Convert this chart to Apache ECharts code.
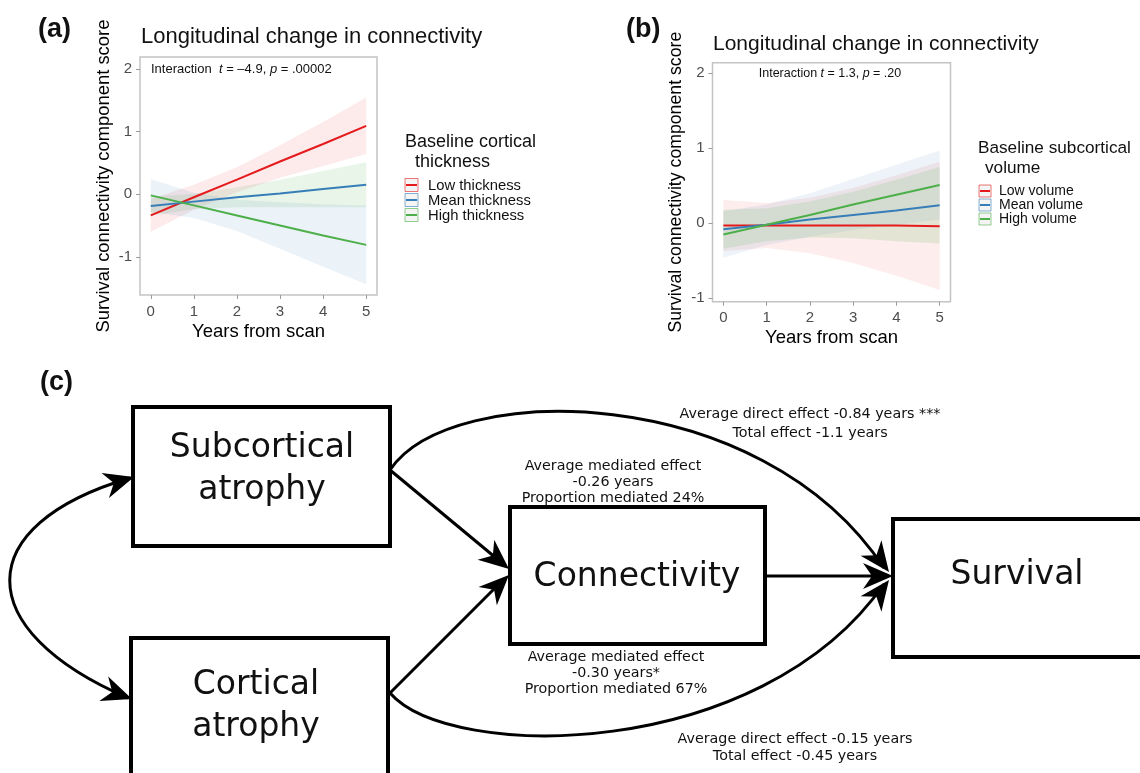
<!DOCTYPE html>
<html><head><meta charset="utf-8">
<script src="https://cdn.jsdelivr.net/npm/echarts@6/dist/echarts.min.js"></script>
<style>html,body{margin:0;padding:0;background:#fff}#c{width:1140px;height:773px}</style>
</head><body><div id="c"></div><script>
// ---------- data ----------
const years = [0, 1, 2, 3, 4, 5];
const xTicks = [0, 1, 2, 3, 4, 5];
const yTicksA = [-1, 0, 1, 2];
const yTicksB = [-1, 0, 1, 2];

// Panel (a): Baseline cortical thickness
const legendA = ['Low thickness', 'Mean thickness', 'High thickness'];
const aLow  = [-0.34, -0.05, 0.23, 0.52, 0.80, 1.09];
const aMean = [-0.19, -0.12, -0.05, 0.01, 0.08, 0.15];
const aHigh = [-0.02, -0.18, -0.34, -0.50, -0.66, -0.81];
// confidence ribbons (as coloured in the figure)
const aRedLo   = [-0.60, -0.25, 0.03, 0.26, 0.45, 0.64];
const aRedHi   = [-0.08, 0.15, 0.43, 0.78, 1.15, 1.54];
const aBlueLo  = [-0.28, -0.38, -0.59, -0.87, -1.16, -1.44];
const aBlueHi  = [0.24, 0.02, -0.09, -0.13, -0.16, -0.18];
const aGreenLo = [-0.34, -0.24, -0.21, -0.21, -0.21, -0.21];
const aGreenHi = [-0.04, 0.00, 0.11, 0.23, 0.37, 0.51];

// Panel (b): Baseline subcortical volume
const legendB = ['Low volume', 'Mean volume', 'High volume'];
const bLow  = [-0.03, -0.03, -0.03, -0.03, -0.03, -0.04];
const bMean = [-0.08, -0.02, 0.05, 0.11, 0.17, 0.24];
const bHigh = [-0.15, -0.02, 0.11, 0.25, 0.38, 0.51];
const bRedLo   = [-0.37, -0.33, -0.40, -0.53, -0.70, -0.89];
const bRedHi   = [0.31, 0.27, 0.34, 0.47, 0.64, 0.82];
const bBlueLo  = [-0.46, -0.29, -0.18, -0.09, -0.02, 0.05];
const bBlueHi  = [0.16, 0.25, 0.40, 0.59, 0.78, 0.97];
const bGreenLo = [-0.34, -0.24, -0.19, -0.20, -0.24, -0.27];
const bGreenHi = [0.18, 0.20, 0.29, 0.42, 0.58, 0.75];

// ---------- styles ----------
const RED = '#E41A1C', BLUE = '#377EB8', GREEN = '#4DAF4A';
const AR = '"Liberation Sans", Arial, sans-serif';
const DV = '"DejaVu Sans", Verdana, sans-serif';

function pairs(v) { return years.map((x, i) => [x, v[i]]); }
function band(gi, lo, hi, fill) {
  return { type: 'custom', xAxisIndex: gi, yAxisIndex: gi, silent: true, z: 1,
    data: years.map((x, i) => [x, lo[i], hi[i]]), encode: { x: 0, y: [1, 2] },
    renderItem: function (params, api) {
      if (params.dataIndex !== 0) return null;
      const top = [], bot = [];
      for (let i = 0; i < years.length; i++) {
        top.push(api.coord([years[i], hi[i]]));
        bot.push(api.coord([years[i], lo[i]]));
      }
      return { type: 'polygon', shape: { points: top.concat(bot.reverse()) }, style: { fill: fill } };
    } };
}
function line(name, gi, v, color) {
  return { name, type: 'line', xAxisIndex: gi, yAxisIndex: gi, data: pairs(v), symbol: 'none',
    lineStyle: { color, width: 2 }, itemStyle: { color }, z: 5 };
}
function xAx(gi) {
  return { type: 'value', gridIndex: gi, min: -0.25, max: 5.25,
    axisLine: { show: false, onZero: false }, splitLine: { show: false },
    axisTick: { show: true, length: 4, lineStyle: { color: '#9a9a9a', width: 1 }, customValues: xTicks },
    axisLabel: { customValues: xTicks, color: '#4d4d4d', fontSize: 15, fontFamily: AR, margin: 9 },
    name: 'Years from scan', nameLocation: 'middle', nameGap: 27,
    nameTextStyle: { fontSize: 18.5, fontFamily: AR, color: '#000' } };
}
function yAx(gi, min, max, ticks, fs) {
  return { type: 'value', gridIndex: gi, min, max,
    axisLine: { show: false, onZero: false }, splitLine: { show: false },
    axisTick: { show: true, length: 4, lineStyle: { color: '#9a9a9a', width: 1 }, customValues: ticks },
    axisLabel: { customValues: ticks, color: '#4d4d4d', fontSize: 15, fontFamily: AR, margin: 8 },
    name: 'Survival connectivity component score', nameLocation: 'middle', nameGap: 27, nameRotate: 90,
    nameTextStyle: { fontSize: fs, fontFamily: AR, color: '#000' } };
}

// ---------- diagram helpers ----------
function head(tx, ty, fx, fy, L, W) {
  L = L || 30; W = W || 26;
  const dx = tx - fx, dy = ty - fy, d = Math.hypot(dx, dy), ux = dx / d, uy = dy / d, nx = -uy, ny = ux;
  const bx = tx - L * ux, by = ty - L * uy;
  return { type: 'polygon', z: 20, shape: { points: [[tx, ty], [bx + nx * W / 2, by + ny * W / 2],
    [tx - 0.7 * L * ux, ty - 0.7 * L * uy], [bx - nx * W / 2, by - ny * W / 2]] }, style: { fill: '#000' } };
}
function box(x, y, w, h) {
  return { type: 'rect', z: 10, shape: { x, y, width: w, height: h }, style: { fill: '#fff', stroke: '#000', lineWidth: 4 } };
}
function txt(x, y, text, font, align) {
  return { type: 'text', z: 30, x, y, style: { text, font, fill: '#111',
    textAlign: align || 'center', textVerticalAlign: 'middle' } };
}
function curve(p0, p1, p2, p3) {
  return { type: 'bezierCurve', z: 5, shape: { x1: p0[0], y1: p0[1], cpx1: p1[0], cpy1: p1[1], cpx2: p2[0], cpy2: p2[1], x2: p3[0], y2: p3[1] },
    style: { stroke: '#000', lineWidth: 3, fill: 'none' } };
}
function legendKey(x, y, color, s) {
  return [
    { type: 'rect', z: 30, shape: { x, y: y - s / 2, width: s, height: s }, style: { fill: '#ececec', stroke: color, opacity: 0.6, lineWidth: 1 } },
    { type: 'line', z: 31, shape: { x1: x + 1, y1: y, x2: x + s - 1, y2: y }, style: { stroke: color, lineWidth: 2 } }
  ];
}

const big = '33px ' + DV;
const small = '14.3px ' + DV;
const graphics = [
  // panel labels & titles
  txt(38, 30, '(a)', 'bold 27px ' + AR, 'left'),
  txt(626, 30, '(b)', 'bold 27px ' + AR, 'left'),
  txt(40, 383, '(c)', 'bold 27px ' + AR, 'left'),
  txt(141, 37, 'Longitudinal change in connectivity', '22px ' + AR, 'left'),
  txt(713, 44, 'Longitudinal change in connectivity', '21px ' + AR, 'left'),
  { type: 'text', z: 30, x: 151, y: 69, style: { text: '{a|Interaction  }{i|t}{a| = \u20134.9, }{i|p}{a| = .00002}',
      textVerticalAlign: 'middle', rich: { a: { font: '13px ' + AR, fill: '#111' }, i: { font: 'italic 13px ' + AR, fill: '#111' } } } },
  { type: 'text', z: 30, x: 830, y: 74, style: { text: '{a|Interaction }{i|t}{a| = 1.3, }{i|p}{a| = .20}', textAlign: 'center',
      textVerticalAlign: 'middle', rich: { a: { font: '12.5px ' + AR, fill: '#111' }, i: { font: 'italic 12.5px ' + AR, fill: '#111' } } } },
  // legend a
  txt(405, 142, 'Baseline cortical', '18px ' + AR, 'left'),
  txt(415, 162, 'thickness', '18px ' + AR, 'left'),
  ...legendKey(405, 185, RED, 13), ...legendKey(405, 200, BLUE, 13), ...legendKey(405, 215, GREEN, 13),
  txt(428, 186, legendA[0], '14.8px ' + AR, 'left'),
  txt(428, 201, legendA[1], '14.8px ' + AR, 'left'),
  txt(428, 216, legendA[2], '14.8px ' + AR, 'left'),
  // legend b
  txt(978, 148, 'Baseline subcortical', '17.2px ' + AR, 'left'),
  txt(985, 168, 'volume', '17.2px ' + AR, 'left'),
  ...legendKey(979, 191, RED, 12), ...legendKey(979, 205, BLUE, 12), ...legendKey(979, 219, GREEN, 12),
  txt(999, 191, legendB[0], '14px ' + AR, 'left'),
  txt(999, 205, legendB[1], '14px ' + AR, 'left'),
  txt(999, 219, legendB[2], '14px ' + AR, 'left'),
  // diagram boxes
  box(133, 407, 257, 139), box(131, 638, 257, 170), box(510, 507, 255, 137), box(893, 519, 300, 138),
  txt(262, 448, 'Subcortical', big), txt(262, 490, 'atrophy', big),
  txt(256, 685, 'Cortical', big), txt(256, 727, 'atrophy', big),
  txt(637, 577, 'Connectivity', big), txt(1017, 575, 'Survival', big),
  // straight arrows
  { type: 'line', z: 6, shape: { x1: 390, y1: 470, x2: 496, y2: 558 }, style: { stroke: '#000', lineWidth: 3 } },
  head(509, 569, 390, 470),
  { type: 'line', z: 6, shape: { x1: 390, y1: 693, x2: 497, y2: 586 }, style: { stroke: '#000', lineWidth: 3 } },
  head(509, 575, 390, 693),
  { type: 'line', z: 6, shape: { x1: 767, y1: 576, x2: 880, y2: 576 }, style: { stroke: '#000', lineWidth: 3 } },
  head(893, 576, 767, 576),
  // curves
  curve([390, 470], [450, 380], [760, 380], [884, 568]), head(889, 572, 790, 440),
  curve([390, 693], [450, 762], [760, 762], [884, 584]), head(889, 580, 790, 712),
  curve([130, 478], [-30, 525], [-30, 630], [128, 698]),
  head(134, 477, 70, 496), head(132, 699, 68, 676),
  // diagram texts
  txt(810, 414, 'Average direct effect -0.84 years ***', small),
  txt(810, 433, 'Total effect -1.1 years', small),
  txt(613, 466, 'Average mediated effect', small),
  txt(613, 482, '-0.26 years', small),
  txt(613, 498, 'Proportion mediated 24%', small),
  txt(616, 657, 'Average mediated effect', small),
  txt(616, 673, '-0.30 years*', small),
  txt(616, 689, 'Proportion mediated 67%', small),
  txt(795, 739, 'Average direct effect -0.15 years', small),
  txt(795, 756, 'Total effect -0.45 years', small)
];

const chart = echarts.init(document.getElementById('c'), null, { renderer: 'canvas' });
chart.setOption({
  animation: false,
  backgroundColor: '#fff',
  grid: [
    { left: 140, top: 57, width: 237, height: 238, show: true, borderColor: '#c4c4c4', borderWidth: 1.5, backgroundColor: 'transparent' },
    { left: 712.5, top: 62.7, width: 238, height: 239, show: true, borderColor: '#c4c4c4', borderWidth: 1.5, backgroundColor: 'transparent' }
  ],
  xAxis: [xAx(0), xAx(1)],
  yAxis: [yAx(0, -1.61, 2.188, yTicksA, 18.4), yAx(1, -1.045, 2.141, yTicksB, 17.7)],
  series: [
    band(0, aRedLo, aRedHi, 'rgba(228,26,28,0.09)'),
    band(0, aBlueLo, aBlueHi, 'rgba(55,126,184,0.10)'),
    band(0, aGreenLo, aGreenHi, 'rgba(77,175,74,0.12)'),
    line(legendA[0], 0, aLow, RED), line(legendA[1], 0, aMean, BLUE), line(legendA[2], 0, aHigh, GREEN),
    band(1, bRedLo, bRedHi, 'rgba(228,26,28,0.08)'),
    band(1, bBlueLo, bBlueHi, 'rgba(55,126,184,0.09)'),
    band(1, bGreenLo, bGreenHi, 'rgba(77,175,74,0.14)'),
    line(legendB[0], 1, bLow, RED), line(legendB[1], 1, bMean, BLUE), line(legendB[2], 1, bHigh, GREEN)
  ],
  graphic: { elements: graphics }
});
</script></body></html>
